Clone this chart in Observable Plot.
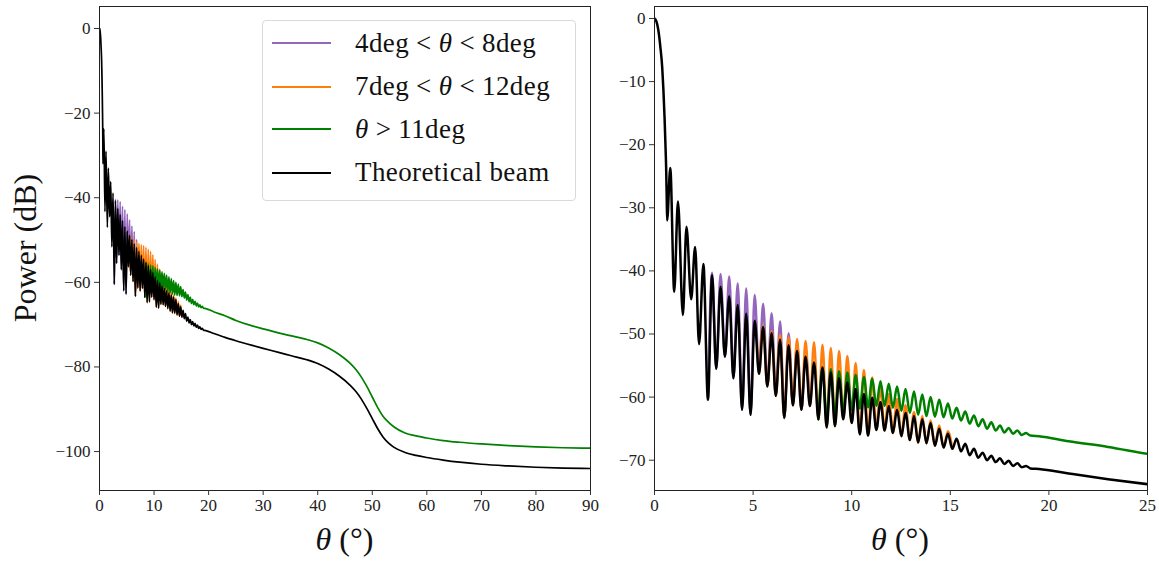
<!DOCTYPE html>
<html><head><meta charset="utf-8">
<script src="https://cdn.jsdelivr.net/npm/d3@7"></script>
<script src="https://cdn.jsdelivr.net/npm/@observablehq/plot@0.6"></script>
<style>
html,body{margin:0;padding:0;background:#fff;}
#fig{position:relative;width:1159px;height:563px;font-family:"Liberation Serif",serif;color:#111;overflow:hidden;}
.panel{position:absolute;top:0;}
.xtitle{position:absolute;top:519px;font-size:32px;line-height:40px;text-align:center;width:200px;white-space:nowrap;}
.ytitle{position:absolute;left:25px;top:248px;font-size:32px;white-space:nowrap;transform:translate(-50%,-50%) rotate(-90deg);}
#legend{position:absolute;left:262px;top:20px;width:312px;height:179px;border:1px solid #d9d9d9;border-radius:4px;background:rgba(255,255,255,0.85);}
.row{position:absolute;left:0;height:40px;display:flex;align-items:center;font-size:27px;letter-spacing:0.4px;white-space:nowrap;}
.sw{width:59px;height:0;border-top:2px solid;margin-left:9px;margin-right:24px;}
.op{margin:0 7px;}
i{font-style:italic;}
</style></head><body><div id="fig"></div>
<script>
// ---- data ----
// main lobe
const mainTheta = [0, 0.1, 0.22, 0.3, 0.39, 0.45, 0.51, 0.55, 0.59, 0.62];
const mainDb    = [0, -0.5, -2.4, -4.6, -7.7, -11.2, -15.7, -19.5, -23.6, -28.5];
// side-lobe extrema (alternating null / peak)
const lobeTheta = [0.64,0.80,1.00,1.19,1.44,1.62,1.86,2.06,2.26,2.48,2.71,2.92,3.13,3.35,3.57,3.79,4.00,4.22,4.44,4.65,4.87,5.08,5.30,5.51,5.72,5.94,6.15,6.37,6.58,6.80,7.02,7.23,7.45,7.66,7.88,8.09,8.31,8.52,8.73,8.94,9.15,9.36,9.57,9.78,10.00,10.20,10.41,10.62,10.83,11.04,11.25,11.46,11.67,11.88,12.09,12.30,12.52,12.73,12.95,13.16,13.37,13.58,13.79,14.00,14.22,14.44,14.66,14.88,15.10,15.32,15.54,15.76,15.98,16.20,16.42,16.64,16.86,17.08,17.30,17.52,17.74,17.96,18.18,18.40,18.62,18.84,19.06];
const beamLobeDb = [-32.0,-23.7,-43.3,-29.0,-47.0,-33.0,-44.5,-36.2,-51.6,-38.9,-60.4,-40.7,-55.5,-42.5,-53.6,-44.0,-57.0,-45.4,-62.0,-46.8,-62.8,-47.9,-56.3,-48.9,-58.3,-49.9,-59.8,-50.9,-63.3,-51.8,-61.3,-52.7,-62.0,-53.6,-61.4,-54.5,-63.5,-55.3,-64.8,-56.1,-64.6,-57.0,-63.5,-57.7,-64.1,-58.7,-65.9,-59.5,-66.1,-60.1,-65.2,-60.8,-65.3,-61.4,-65.7,-62.0,-66.2,-62.5,-66.8,-63.0,-67.2,-63.5,-67.3,-64.1,-67.7,-65.0,-68.0,-65.8,-68.2,-66.6,-68.6,-67.4,-69.2,-68.2,-69.6,-68.8,-70.0,-69.3,-70.3,-69.7,-70.6,-70.1,-70.9,-70.5,-71.1,-70.9,-71.3];
// 4deg < theta < 8deg
const purpleTheta = [2.71,2.92,3.13,3.35,3.57,3.79,4.00,4.22,4.44,4.65,4.87,5.08,5.30,5.51,5.72,5.94,6.15,6.37,6.58,6.80,7.02,7.23,7.45,7.66,7.88];
const purpleDb = [-60.4,-40.3,-55.5,-40.5,-53.6,-40.9,-57.0,-42.0,-62.0,-42.8,-62.8,-43.8,-56.3,-45.2,-58.3,-46.7,-59.8,-48.0,-63.3,-49.9,-61.3,-51.5,-62.0,-53.2,-61.4];
// 7deg < theta < 12deg
const orangeTheta = [5.30,5.51,5.72,5.94,6.15,6.37,6.58,6.80,7.02,7.23,7.45,7.66,7.88,8.09,8.31,8.52,8.73,8.94,9.15,9.36,9.57,9.78,10.00,10.20,10.41,10.62,10.83,11.04,11.25,11.46,11.67,11.88,12.09,12.30,12.52,12.73,12.95,13.16,13.37,13.58,13.79,14.00,14.22,14.44,14.66,14.88,15.10];
const orangeDb = [-56.3,-48.7,-58.3,-49.6,-59.8,-50.1,-63.3,-50.5,-61.3,-50.8,-62.0,-51.1,-61.4,-51.3,-63.5,-51.7,-64.8,-52.2,-64.6,-52.7,-63.5,-53.5,-64.1,-54.6,-65.9,-55.7,-66.1,-56.9,-65.2,-58.3,-65.3,-59.5,-65.7,-60.3,-66.2,-61.3,-66.8,-62.4,-67.2,-63.0,-67.3,-63.7,-67.7,-64.5,-68.0,-65.4,-68.2];
// theta > 11deg
const greenTheta = [8.31,8.52,8.73,8.94,9.15,9.36,9.57,9.78,10.00,10.20,10.41,10.62,10.83,11.04,11.25,11.46,11.67,11.88,12.09,12.30,12.52,12.73,12.95,13.16,13.37,13.58,13.79,14.00,14.22,14.44,14.66,14.88,15.10,15.32,15.54,15.76,15.98,16.20,16.42,16.64,16.86,17.08,17.30,17.52,17.74,17.96,18.18,18.40,18.62,18.84,19.06];
const greenDb = [-63.5,-55.3,-63.5,-55.6,-63.0,-55.9,-62.5,-56.1,-62.0,-56.5,-61.8,-56.8,-61.6,-57.1,-61.4,-57.5,-61.4,-57.9,-61.7,-58.3,-62.2,-58.7,-62.5,-59.1,-62.8,-59.6,-63.0,-60.0,-63.1,-60.4,-63.2,-61.0,-63.4,-61.7,-63.7,-62.3,-64.2,-62.9,-64.6,-63.5,-65.0,-64.0,-65.3,-64.5,-65.6,-64.9,-65.8,-65.3,-66.0,-65.7,-66.1];
// smooth far side lobes
const tailTheta   = [19.5,21,23,25,28,30,33,35,38,40,42,44,46,47,48,49,50,51,52,53,54,56,58,60,63,66,70,75,80,85,90];
const beamTailDb  = [-71.4,-72.1,-73.0,-73.8,-74.9,-75.6,-76.6,-77.3,-78.3,-79.2,-80.5,-82.2,-84.4,-85.8,-87.6,-89.8,-92.2,-94.6,-96.6,-98.0,-99.0,-100.2,-100.9,-101.4,-102.0,-102.5,-103.0,-103.4,-103.7,-103.9,-104.0];
const greenTailDb = [-66.2,-67.0,-67.9,-69.0,-70.3,-71.0,-72.0,-72.6,-73.5,-74.3,-75.5,-77.1,-79.2,-80.6,-82.4,-84.6,-87.1,-89.6,-91.7,-93.1,-94.2,-95.6,-96.3,-96.8,-97.4,-97.8,-98.2,-98.6,-98.9,-99.1,-99.2];

const seriesNames = ["4deg < θ < 8deg", "7deg < θ < 12deg", "θ > 11deg", "Theoretical beam"];
const seriesColors = ["#9467bd", "#ff7f0e", "#008000", "#000000"];
const leftXTicks = [0,10,20,30,40,50,60,70,80,90];
const leftYTicks = [0,-20,-40,-60,-80,-100];
const rightXTicks = [0,5,10,15,20,25];
const rightYTicks = [0,-10,-20,-30,-40,-50,-60,-70];

// ---- build tables ----
const rows = (th, db, s) => th.map((t, i) => ({theta: t, db: db[i], series: s}));
const purple = rows(purpleTheta, purpleDb, seriesNames[0]);
const orange = rows(orangeTheta, orangeDb, seriesNames[1]);
const green = [...rows(greenTheta, greenDb, seriesNames[2]), ...rows(tailTheta, greenTailDb, seriesNames[2])];
const beam = [...rows(mainTheta, mainDb, seriesNames[3]), ...rows(lobeTheta, beamLobeDb, seriesNames[3]), ...rows(tailTheta, beamTailDb, seriesNames[3])];
const layers = [purple, orange, green, beam];

const fmt = d3.format("d");
function panel({width, mL, mR, xDomain, yDomain, xTicks, yTicks, sw}) {
  return Plot.plot({
    width, height: 563,
    marginLeft: mL, marginRight: mR, marginTop: 6, marginBottom: 73,
    style: {fontFamily: '"Liberation Serif", serif', fontSize: "17px", color: "#222", background: "transparent", overflow: "visible"},
    x: {domain: xDomain},
    y: {domain: yDomain},
    marks: [
      ...layers.map((d, i) => Plot.line(d, {x: "theta", y: "db", stroke: seriesColors[i], strokeWidth: sw, curve: "monotone-x", clip: true})),
      Plot.frame({stroke: "#222", strokeWidth: 1}),
      Plot.axisX({ticks: xTicks, tickSize: 5, tickPadding: 3, label: null, tickFormat: fmt, fontSize: 17, stroke: "#333"}),
      Plot.axisY({ticks: yTicks, tickSize: 5, tickPadding: 4, label: null, tickFormat: fmt, fontSize: 17, stroke: "#333"})
    ]
  });
}

const fig = document.getElementById("fig");
const left = panel({width: 600, mL: 99, mR: 10, xDomain: [0, 90], yDomain: [-109.2, 5.2], xTicks: leftXTicks, yTicks: leftYTicks, sw: 1.7});
left.classList.add("panel"); left.style.left = "0px";
const right = panel({width: 559, mL: 54, mR: 12, xDomain: [0, 25], yDomain: [-74.8, 1.9], xTicks: rightXTicks, yTicks: rightYTicks, sw: 2.5});
right.classList.add("panel"); right.style.left = "600px";
fig.appendChild(left); fig.appendChild(right);

// axis titles
const xt1 = document.createElement("div"); xt1.className = "xtitle"; xt1.style.left = (344.5 - 100) + "px"; xt1.innerHTML = "<i>θ</i> (°)"; fig.appendChild(xt1);
const xt2 = document.createElement("div"); xt2.className = "xtitle"; xt2.style.left = (900 - 100) + "px"; xt2.innerHTML = "<i>θ</i> (°)"; fig.appendChild(xt2);
const yt = document.createElement("div"); yt.className = "ytitle"; yt.textContent = "Power (dB)"; fig.appendChild(yt);

// legend
const legendHtml = ["4deg<span class='op'>&lt;</span><i>θ</i><span class='op'>&lt;</span>8deg", "7deg<span class='op'>&lt;</span><i>θ</i><span class='op'>&lt;</span>12deg", "<i>θ</i><span class='op'>&gt;</span>11deg", "Theoretical beam"];
const lg = document.createElement("div"); lg.id = "legend";
const rowCenters = [43.3, 86.7, 129.3, 172.7];
seriesNames.forEach((name, i) => {
  const r = document.createElement("div"); r.className = "row";
  r.style.top = (rowCenters[i] - 20 - 21) + "px";
  r.innerHTML = `<span class="sw" style="border-color:${seriesColors[i]}"></span><span>${legendHtml[i]}</span>`;
  lg.appendChild(r);
});
fig.appendChild(lg);
</script>
</body></html>
